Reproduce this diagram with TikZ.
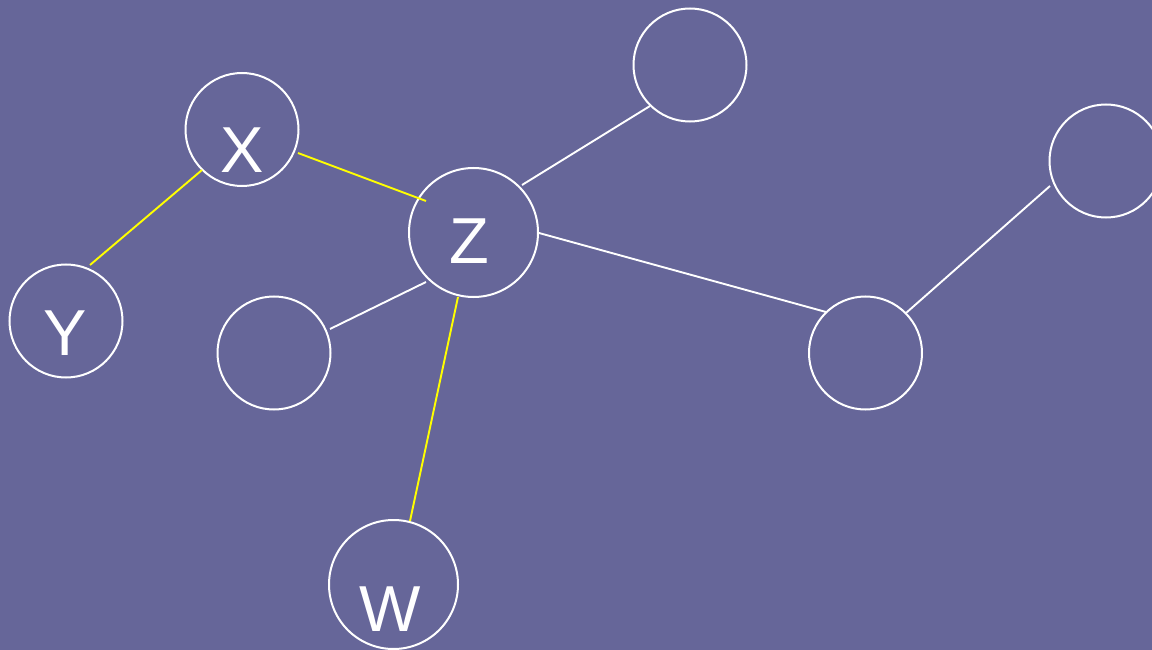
\documentclass[tikz,border=0pt]{standalone}
\usepackage{fontspec}
\setmainfont{Liberation Sans}
\usetikzlibrary{calc}
\definecolor{bgc}{HTML}{666699}
\definecolor{yl}{HTML}{FFFF00}
\begin{document}
\begin{tikzpicture}[x=1pt,y=-1pt,
  ring/.style={circle,draw=white,line width=2pt,inner sep=0pt,minimum size=#1},
  ring/.default=113pt,
  lbl/.style={text=white,inner sep=0pt,font=\fontsize{65}{70}\selectfont},
  wline/.style={draw=white,line width=1.9pt},
  yline/.style={draw=yl,line width=1.9pt}]
\fill[bgc] (0,0) rectangle (1152,650);
\useasboundingbox (0,0) rectangle (1152,650);
% circles
\node[ring] (X) at (242,129.5) {};
\node[ring] (Y) at (66,321) {};
\node[ring=129pt] (Z) at (473.5,232.5) {};
\node[ring=129pt] (W) at (393.5,584.5) {};
\node[ring] (T) at (690,65) {};
\node[ring] (L) at (274,353) {};
\node[ring] (M) at (865.5,353) {};
\node[ring] (R) at (1106,161) {};
% labels
\node[lbl] (lx) at (242,150) {X};
\node[lbl] (ly) at (65,333.5) {Y};
\node[lbl] (lz) at (469,241) {Z};
\node[lbl] (lw) at (390,609) {W};
% connectors
\draw[yline] ($(X)+(56,23.5)$) -- ($(Z)+(-47.5,-31.5)$);
\draw[yline] ($(Y)+(24,-56)$) -- ($(X)+(-40,40.5)$);
\draw[wline] ($(Z)+(48.5,-47.5)$) -- ($(T)+(-40,41)$);
\draw[wline] ($(Z)+(-47.5,49.5)$) -- ($(L)+(56,-24)$);
\draw[yline] ($(Z)+(-15.5,64.5)$) -- ($(W)+(16.5,-63.5)$);
\draw[wline] ($(Z)+(65.5,0.5)$) -- ($(M)+(-39.5,-41)$);
\draw[wline] ($(M)+(40.5,-40)$) -- ($(R)+(-56,25)$);
\end{tikzpicture}
\end{document}
